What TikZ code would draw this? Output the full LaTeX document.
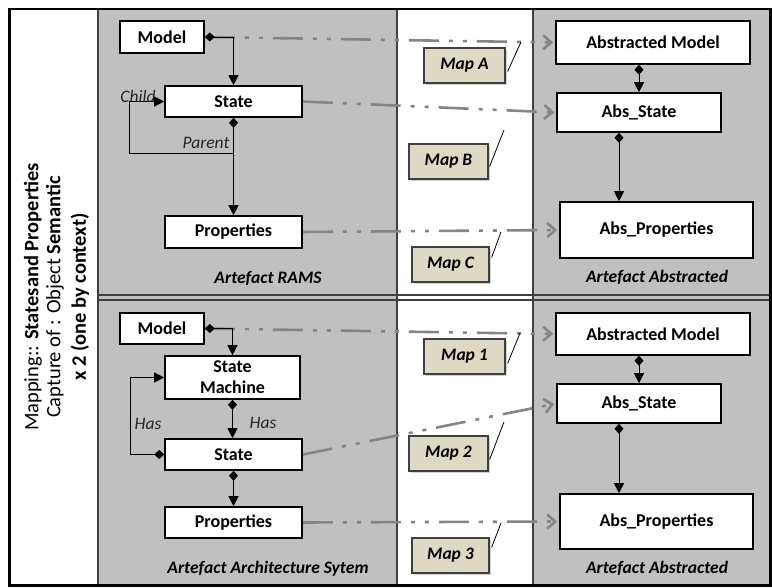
\documentclass[tikz,border=0pt]{standalone}
\usepackage{fontspec}
\setmainfont{Carlito}
\usetikzlibrary{arrows.meta,positioning,calc,shadows}
\definecolor{panelgray}{HTML}{C0C0C0}
\definecolor{maptan}{HTML}{DDD9C3}
\definecolor{mapgray}{HTML}{858585}
\definecolor{rulegray}{HTML}{3F3F3F}

\begin{document}
\begin{tikzpicture}[x=1pt,y=-1pt,
	box/.style={draw=black,line width=1.6pt,fill=white,inner sep=0pt,align=center,
		font=\fontsize{18}{21}\selectfont\bfseries},
	mapbox/.style={draw=rulegray,line width=1.2pt,fill=maptan,inner sep=0pt,
		font=\fontsize{17.5}{20}\selectfont\bfseries\itshape,
		drop shadow={shadow xshift=1.5pt,shadow yshift=-2pt,opacity=0.35}},
	link/.style={line width=0.9pt,{Diamond[length=10pt,width=9pt]}-{Triangle[length=10pt,width=10pt]}},
	mapline/.style={draw=mapgray,line width=2.6pt,shorten >=2pt,
		dash pattern=on 30pt off 10pt on 4pt off 10pt on 4pt off 10pt,
		-{Straight Barb[length=8pt,width=14pt]}},
	callout/.style={line width=0.8pt},
	rel/.style={font=\fontsize{17.5}{20}\selectfont\itshape,text=black!85},
	artefact/.style={font=\fontsize{17.5}{20}\selectfont\bfseries\itshape},
	sidetext/.style={rotate=90,font=\fontsize{20.5}{22}\selectfont}]
	\useasboundingbox (0,0) rectangle (772,588);
	
	% panels
	\fill[panelgray] (98,9) rectangle (397,585);
	\fill[panelgray] (533,9) rectangle (770,585);
	\foreach \x in {98,397,533}{
		\draw[rulegray,line width=1.2pt] (\x,9)--(\x,585);
	}
	\foreach \y in {295,300}{
		\draw[rulegray,line width=1.2pt] (98,\y)--(770,\y);
	}
	\draw[line width=2.5pt] (9.5,9) rectangle (770.5,585.5);
	
	% side caption
	\node[sidetext] (capone) at (33,297) {Mapping:: \textbf{Statesand Properties}};
	\node[sidetext] (captwo) at (55,297) {Capture of : Object \textbf{Semantic}};
	\node[sidetext,font=\fontsize{20.5}{22}\selectfont\bfseries] (capthree) at (80,297) {x 2 (one by context)};
	
	% artefact RAMS
	\node[box,minimum width=84pt,minimum height=32pt] (mdlA) at (162,37) {Model};
	\node[box,minimum width=137pt,minimum height=31pt] (stA) at (233.5,101.5) {State};
	\node[box,minimum width=137pt,minimum height=32pt] (prA) at (233.5,232) {Properties};
	\node[artefact] (artA) at (268,278) {Artefact RAMS};
	
	% artefact abstracted (top)
	\node[box,minimum width=194pt,minimum height=43pt] (amA) at (653,42.5) {Abstracted Model};
	\node[box,minimum width=164pt,minimum height=39pt] (asA) at (639,112.5) {Abs\_State};
	\node[box,minimum width=193pt,minimum height=56pt] (apA) at (656.5,230) {Abs\_Properties};
	\node[artefact] (absA) at (657,277) {Artefact Abstracted};
	
	% artefact architecture system
	\node[box,minimum width=84pt,minimum height=31pt] (mdlB) at (162,328.5) {Model};
	\node[box,minimum width=135pt,minimum height=43pt] (smB) at (232.5,377.5) {State\\Machine};
	\node[box,minimum width=137pt,minimum height=31pt] (stB) at (233.5,454.5) {State};
	\node[box,minimum width=137pt,minimum height=31pt] (prB) at (233.5,522.5) {Properties};
	\node[artefact] (artB) at (268,569) {Artefact Architecture Sytem};
	
	% artefact abstracted (bottom)
	\node[box,minimum width=194pt,minimum height=42pt] (amB) at (653,334) {Abstracted Model};
	\node[box,minimum width=164pt,minimum height=39pt] (asB) at (639,403.5) {Abs\_State};
	\node[box,minimum width=193pt,minimum height=55pt] (apB) at (656.5,521.5) {Abs\_Properties};
	\node[artefact] (absB) at (657,568) {Artefact Abstracted};
	
	% mappings
	\foreach \a/\b in {mdlA/amA,stA/asA,prA/apA,mdlB/amB,stB/asB,prB/apB}{
		\draw[mapline] (\a.east) -- (\b.west);
	}
	
	% links, top
	\draw[link] (mdlA.east) -| (stA.north);
	\draw[link] (stA.south) -- (prA.north);
	\coordinate (parA) at ($(stA.south)!0.37!(prA.north)$);
	\draw[line width=0.9pt,-{Triangle[length=10pt,width=10pt]}] (parA) -- ++(-104,0) |- (stA.west);
	\node[rel] (child) at (138,96) {Child};
	\node[rel] (parent) at (206,143) {Parent};
	\draw[link] (asA.north |- amA.south) -- (asA.north);
	\draw[link] ([xshift=-20pt]asA.south) -- ([xshift=-20pt]asA.south |- apA.north);
	
	% links, bottom
	\draw[link] (mdlB.east) -| (smB.north);
	\draw[link] (smB.south) -- (smB.south |- stB.north);
	\draw[link] (stB.west) -- ++(-34,0) |- (smB.west);
	\draw[link] (stB.south) -- (prB.north);
	\node[rel] (hasl) at (148,424) {Has};
	\node[rel] (hasr) at (263,423) {Has};
	\draw[link] (asB.north |- amB.south) -- (asB.north);
	\draw[link] ([xshift=-20pt]asB.south) -- ([xshift=-20pt]asB.south |- apB.north);
	
	% map notes
	\node[mapbox,minimum width=81pt,minimum height=35pt] (mapA) at (464.5,65.5) {Map A};
	\node[mapbox,minimum width=79pt,minimum height=35pt] (mapB) at (448.5,161.5) {Map B};
	\node[mapbox,minimum width=77pt,minimum height=35pt] (mapC) at (450.5,264.5) {Map C};
	\node[mapbox,minimum width=81pt,minimum height=35pt] (mapI) at (464.5,356.5) {Map 1};
	\node[mapbox,minimum width=79pt,minimum height=35pt] (mapII) at (448.5,453.5) {Map 2};
	\node[mapbox,minimum width=77pt,minimum height=35pt] (mapIII) at (450.5,555.5) {Map 3};
	\coordinate (tipA) at (521,42);
	\coordinate (tipB) at (504,130);
	\coordinate (tipC) at (501,232);
	\coordinate (tipI) at (520,333);
	\coordinate (tipII) at (504,422);
	\coordinate (tipIII) at (501,523);
	\draw[callout] ([xshift=2pt,yshift=-6pt]mapA.east) -- (tipA);
	\draw[callout] ([xshift=1pt,yshift=-5pt]mapB.east) -- (tipB);
	\draw[callout] ([xshift=2pt,yshift=7pt]mapC.east) -- (tipC);
	\draw[callout] ([xshift=2pt,yshift=-7pt]mapI.east) -- (tipI);
	\draw[callout] ([xshift=1pt,yshift=-6pt]mapII.east) -- (tipII);
	\draw[callout] ([xshift=2pt,yshift=8pt]mapIII.east) -- (tipIII);
\end{tikzpicture}
\end{document}
